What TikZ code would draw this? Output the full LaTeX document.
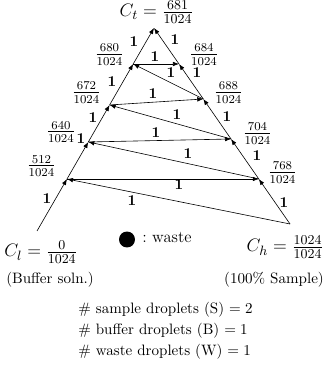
\documentclass[tikz,border=0pt]{standalone}
\usepackage{amsmath}
\usetikzlibrary{arrows.meta}
\begin{document}
\begin{tikzpicture}[x=0.2333cm, y=0.2333cm, >={Latex[length=4pt,width=3pt]},
  arr/.style={->,thin},
  wt/.style={font=\bfseries,inner sep=0pt},
  frc/.style={font=\large,inner sep=0pt},
  conc/.style={anchor=base,inner sep=0pt,font=\fontsize{13}{15}\selectfont},
  txt/.style={anchor=base,inner sep=0pt}]
\useasboundingbox (0,0) rectangle (32.2,36.9);
% corners of the triangle
\coordinate (Cl) at (3.7,13.8);
\coordinate (Ch) at (29.0,14.5);
\coordinate (Ct) at (15.4,34.1);
% droplets on the left side
\coordinate (p512) at (6.70,19.0);
\coordinate (p640) at (8.83,22.7);
\coordinate (p672) at (10.96,26.4);
\coordinate (p680) at (13.32,30.5);
% droplets on the right side
\coordinate (p768) at (25.88,19.0);
\coordinate (p704) at (23.10,23.0);
\coordinate (p688) at (20.33,27.0);
\coordinate (p684) at (17.90,30.5);
% mixing steps
\draw[arr] (Cl) -- (p512); \draw[arr] (Ch) -- (p512);
\draw[arr] (p512) -- (p768); \draw[arr] (Ch) -- (p768);
\draw[arr] (p512) -- (p640); \draw[arr] (p768) -- (p640);
\draw[arr] (p640) -- (p704); \draw[arr] (p768) -- (p704);
\draw[arr] (p640) -- (p672); \draw[arr] (p704) -- (p672);
\draw[arr] (p672) -- (p688); \draw[arr] (p704) -- (p688);
\draw[arr] (p672) -- (p680); \draw[arr] (p688) -- (p680);
\draw[arr] (p680) -- (p684); \draw[arr] (p688) -- (p684);
\draw[arr] (p680) -- (Ct); \draw[arr] (p684) -- (Ct);
% droplet counts
\node[wt] (w1) at (4.7,17.0) {1};
\node[wt] (w2) at (13.2,16.8) {1};
\node[wt] (w3) at (17.9,18.4) {1};
\node[wt] (w4) at (28.4,16.6) {1};
\node[wt] (w5) at (8.1,23.0) {1};
\node[wt] (w6) at (18.8,21.5) {1};
\node[wt] (w7) at (15.6,23.6) {1};
\node[wt] (w8) at (25.7,21.3) {1};
\node[wt] (w9) at (9.3,25.1) {1};
\node[wt] (w10) at (17.7,25.4) {1};
\node[wt] (w11) at (15.3,27.5) {1};
\node[wt] (w12) at (22.7,25.2) {1};
\node[wt] (w13) at (11.2,28.7) {1};
\node[wt] (w14) at (17.1,29.6) {1};
\node[wt] (w15) at (15.5,31.2) {1};
\node[wt] (w16) at (19.7,29.6) {1};
\node[wt] (w17) at (13.4,32.7) {1};
\node[wt] (w18) at (17.5,32.9) {1};
% concentrations
\node[frc] (l512) at (4.15,20.3) {$\frac{512}{1024}$};
\node[frc] (l640) at (6.10,23.7) {$\frac{640}{1024}$};
\node[frc] (l672) at (8.65,27.65) {$\frac{672}{1024}$};
\node[frc] (l680) at (10.95,31.45) {$\frac{680}{1024}$};
\node[frc] (l768) at (28.25,19.65) {$\frac{768}{1024}$};
\node[frc] (l704) at (25.75,23.55) {$\frac{704}{1024}$};
\node[frc] (l688) at (22.85,27.65) {$\frac{688}{1024}$};
\node[frc] (l684) at (20.40,31.45) {$\frac{684}{1024}$};
\node[conc] (lt) at (15.65,35.2) {$C_t = \frac{681}{1024}$};
\node[conc] (ll) at (4.1,11.2) {$C_l = \frac{0}{1024}$};
\node[conc] (lh) at (28.5,11.7) {$C_h = \frac{1024}{1024}$};
\node[txt] (buf) at (5.0,8.55) {(Buffer soln.)};
\node[txt] (smp) at (27.4,8.5) {(100\% Sample)};
% legend
\node[circle,fill,inner sep=0pt,minimum size=0.373cm] (dot) at (12.7,12.95) {};
\node[anchor=base west,font=\fontsize{11}{13}\selectfont,inner sep=0pt] (wlbl) at (14.2,12.6) {:\ waste};
\node[anchor=base west,inner sep=0pt] (ns) at (7.8,5.55) {\# sample droplets (S) $=2$};
\node[anchor=base west,inner sep=0pt] (nb) at (7.8,3.45) {\# buffer droplets (B) $=1$};
\node[anchor=base west,inner sep=0pt] (nw) at (7.8,1.35) {\# waste droplets (W) $=1$};
\end{tikzpicture}
\end{document}
